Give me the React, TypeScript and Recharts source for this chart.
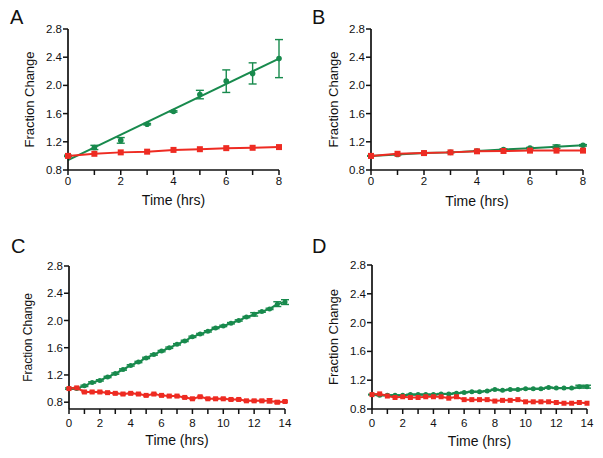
import React from 'react';
import { ComposedChart, Line, XAxis, YAxis, ErrorBar } from 'recharts';

const GREEN = '#188a4d';
const RED = '#ee2b22';
const INK = '#111111';

// Panel A (0-8 hrs, hourly)
const timeA = [0, 1, 2, 3, 4, 5, 6, 7, 8];
const greenA = [1.0, 1.12, 1.22, 1.45, 1.63, 1.87, 2.06, 2.17, 2.38];
const greenErrA = [0.01, 0.03, 0.04, 0.01, 0.01, 0.06, 0.16, 0.15, 0.27];
const redA = [1.0, 1.03, 1.05, 1.06, 1.085, 1.095, 1.11, 1.115, 1.125];
const fitTimeA = [0, 8];
const fitGreenA = [0.94, 2.38];

// Panel B (0-8 hrs, hourly)
const timeB = [0, 1, 2, 3, 4, 5, 6, 7, 8];
const greenB = [1.0, 1.02, 1.04, 1.05, 1.07, 1.09, 1.11, 1.13, 1.15];
const greenErrB = [0.005, 0.005, 0.005, 0.005, 0.005, 0.01, 0.01, 0.025, 0.01];
const redB = [1.0, 1.03, 1.04, 1.05, 1.065, 1.07, 1.075, 1.075, 1.075];

// Panels C and D (0-14 hrs, every half hour)
const timeCD = [0, 0.5, 1, 1.5, 2, 2.5, 3, 3.5, 4, 4.5, 5, 5.5, 6, 6.5, 7, 7.5, 8, 8.5, 9, 9.5, 10, 10.5, 11, 11.5, 12, 12.5, 13, 13.5, 14];
const greenC = [1.0, 1.0, 1.04, 1.09, 1.12, 1.17, 1.22, 1.28, 1.34, 1.39, 1.45, 1.5, 1.55, 1.6, 1.65, 1.7, 1.76, 1.8, 1.84, 1.89, 1.92, 1.96, 2.0, 2.05, 2.09, 2.13, 2.17, 2.24, 2.27];
const greenErrC = [0.01, 0.01, 0.01, 0.01, 0.01, 0.01, 0.01, 0.01, 0.01, 0.01, 0.01, 0.01, 0.01, 0.01, 0.01, 0.01, 0.01, 0.01, 0.01, 0.01, 0.01, 0.01, 0.01, 0.01, 0.025, 0.01, 0.01, 0.035, 0.035];
const redC = [1.0, 1.01, 0.95, 0.95, 0.95, 0.94, 0.93, 0.92, 0.93, 0.92, 0.9, 0.92, 0.9, 0.89, 0.89, 0.87, 0.85, 0.88, 0.85, 0.85, 0.85, 0.84, 0.84, 0.82, 0.82, 0.82, 0.82, 0.8, 0.81];
const redErrC = [0.01, 0.01, 0.01, 0.01, 0.01, 0.01, 0.01, 0.01, 0.01, 0.01, 0.01, 0.01, 0.01, 0.01, 0.01, 0.01, 0.01, 0.01, 0.01, 0.01, 0.01, 0.01, 0.01, 0.01, 0.01, 0.01, 0.03, 0.02, 0.01];
const greenD = [1.0, 0.99, 0.99, 0.99, 0.99, 1.0, 1.0, 1.0, 1.0, 1.01, 1.01, 1.02, 1.03, 1.04, 1.04, 1.05, 1.07, 1.06, 1.07, 1.07, 1.08, 1.08, 1.08, 1.1, 1.09, 1.09, 1.09, 1.11, 1.11];
const greenErrD = [0.005, 0.005, 0.005, 0.005, 0.005, 0.005, 0.005, 0.005, 0.005, 0.005, 0.005, 0.005, 0.005, 0.005, 0.005, 0.005, 0.005, 0.005, 0.005, 0.005, 0.005, 0.005, 0.005, 0.005, 0.005, 0.005, 0.005, 0.02, 0.02];
const redD = [1.0, 1.01, 0.98, 0.96, 0.97, 0.96, 0.96, 0.97, 0.97, 0.97, 0.95, 0.97, 0.93, 0.93, 0.93, 0.93, 0.91, 0.92, 0.92, 0.93, 0.9, 0.9, 0.9, 0.9, 0.89, 0.88, 0.88, 0.89, 0.88];

// Tick labels
const yTicks = [0.8, 1.2, 1.6, 2.0, 2.4, 2.8];
const xTicksShort = [0, 1, 2, 3, 4, 5, 6, 7, 8];
const xTicksLong = [0, 1, 2, 3, 4, 5, 6, 7, 8, 9, 10, 11, 12, 13, 14];
const panelLetters = ['A', 'B', 'C', 'D'];
const xTitle = 'Time (hrs)';
const yTitle = 'Fraction Change';

const rowsA = timeA.map((t, i) => ({ t, g: greenA[i], gErr: greenErrA[i], r: redA[i] }));
const fitRowsA = fitTimeA.map((t, i) => ({ t, f: fitGreenA[i] }));
const rowsB = timeB.map((t, i) => ({ t, g: greenB[i], gErr: greenErrB[i], r: redB[i] }));
const rowsC = timeCD.map((t, i) => ({ t, g: greenC[i], gErr: greenErrC[i], r: redC[i], rErr: redErrC[i] }));
const rowsD = timeCD.map((t, i) => ({ t, g: greenD[i], gErr: greenErrD[i], r: redD[i] }));

const circleDot = (color: string, rad: number) => (p: any) =>
  p.cx == null || p.cy == null ? (
    <g key={`e${p.index}`} />
  ) : (
    <circle key={`c${p.index}`} cx={p.cx} cy={p.cy} r={rad} fill={color} stroke="none" />
  );

const squareDot = (color: string, s: number) => (p: any) =>
  p.cx == null || p.cy == null ? (
    <g key={`e${p.index}`} />
  ) : (
    <rect key={`s${p.index}`} x={p.cx - s / 2} y={p.cy - s / 2} width={s} height={s} fill={color} stroke="none" />
  );

type Box = { l: number; t: number; w: number; h: number };
type Plot = { l: number; r: number; t: number; b: number };

function Panel(props: {
  box: Box;
  plot: Plot;
  rows: any[];
  fitRows?: any[];
  yDomain: [number, number];
  xMax: number;
  xTicks: number[];
  xLabelOffset: number;
  yLabelOffset: number;
  tickMarginX: number;
  greenConnected: boolean;
  hasRedErr?: boolean;
  dotR: number;
  sq: number;
  yTitleSize: number;
}) {
  const { box, plot } = props;
  const margin = { top: plot.t - box.t, right: box.l + box.w - plot.r, left: 0, bottom: 0 };
  const yWidth = plot.l - box.l;
  const xHeight = box.t + box.h - plot.b;
  return (
    <div style={{ position: 'absolute', left: box.l, top: box.t, width: box.w, height: box.h }}>
      <ComposedChart width={box.w} height={box.h} data={props.rows} margin={margin}>
        <XAxis
          type="number"
          dataKey="t"
          domain={[0, props.xMax]}
          ticks={props.xTicks}
          interval={0}
          tickFormatter={(v: number) => (v % 2 === 0 ? String(v) : '')}
          height={xHeight}
          tickSize={5}
          tickMargin={props.tickMarginX}
          axisLine={{ stroke: INK, strokeWidth: 1.7 }}
          tickLine={{ stroke: INK, strokeWidth: 1.5 }}
          tick={{ fontSize: 11.5, fill: INK }}
          label={{ value: xTitle, position: 'insideBottom', offset: props.xLabelOffset, style: { fontSize: 14, fill: INK } }}
        />
        <YAxis
          type="number"
          domain={props.yDomain}
          ticks={yTicks}
          interval={0}
          allowDataOverflow
          tickFormatter={(v: number) => v.toFixed(1)}
          width={yWidth}
          tickSize={5}
          tickMargin={1}
          axisLine={{ stroke: INK, strokeWidth: 1.7 }}
          tickLine={{ stroke: INK, strokeWidth: 1.5 }}
          tick={{ fontSize: 11.5, fill: INK }}
          label={{
            value: yTitle,
            angle: -90,
            position: 'insideLeft',
            offset: props.yLabelOffset,
            style: { fontSize: props.yTitleSize, fill: INK, textAnchor: 'middle' },
          }}
        />
        <Line
          dataKey="g"
          stroke={props.greenConnected ? GREEN : 'none'}
          strokeWidth={2}
          dot={circleDot(GREEN, props.dotR)}
          activeDot={false}
          isAnimationActive={false}
        >
          <ErrorBar dataKey="gErr" direction="y" width={4} stroke={GREEN} strokeWidth={1.4} />
        </Line>
        {props.fitRows ? (
          <Line
            data={props.fitRows}
            dataKey="f"
            stroke={GREEN}
            strokeWidth={2}
            dot={false}
            activeDot={false}
            isAnimationActive={false}
          />
        ) : null}
        <Line
          dataKey="r"
          stroke={RED}
          strokeWidth={2}
          dot={squareDot(RED, props.sq)}
          activeDot={false}
          isAnimationActive={false}
        >
          {props.hasRedErr ? <ErrorBar dataKey="rErr" direction="y" width={3} stroke={RED} strokeWidth={1.4} /> : null}
        </Line>
      </ComposedChart>
    </div>
  );
}

export default function App() {
  return (
    <div
      style={{
        position: 'absolute',
        left: 0,
        top: 0,
        width: 603,
        height: 458,
        background: '#ffffff',
        fontFamily: '"Liberation Sans", Arial, Helvetica, sans-serif',
        overflow: 'hidden',
      }}
    >
      <Panel
        box={{ l: 0, t: 0, w: 300, h: 229 }}
        plot={{ l: 68, r: 279, t: 29, b: 170 }}
        rows={rowsA}
        fitRows={fitRowsA}
        yDomain={[0.8, 2.8]}
        xMax={8}
        xTicks={xTicksShort}
        xLabelOffset={24}
        yLabelOffset={29}
        tickMarginX={2}
        greenConnected={false}
        dotR={2.8}
        sq={6}
        yTitleSize={13}
      />
      <Panel
        box={{ l: 300, t: 0, w: 303, h: 229 }}
        plot={{ l: 371, r: 583, t: 29, b: 170 }}
        rows={rowsB}
        yDomain={[0.8, 2.8]}
        xMax={8}
        xTicks={xTicksShort}
        xLabelOffset={23}
        yLabelOffset={33}
        tickMarginX={2}
        greenConnected={true}
        dotR={2.8}
        sq={6}
        yTitleSize={13}
      />
      <Panel
        box={{ l: 0, t: 229, w: 300, h: 229 }}
        plot={{ l: 69, r: 285, t: 266, b: 409 }}
        rows={rowsC}
        yDomain={[0.7, 2.8]}
        xMax={14}
        xTicks={xTicksLong}
        xLabelOffset={13}
        yLabelOffset={28}
        tickMarginX={5}
        greenConnected={true}
        hasRedErr={true}
        dotR={2.5}
        sq={5}
        yTitleSize={12}
      />
      <Panel
        box={{ l: 300, t: 229, w: 303, h: 229 }}
        plot={{ l: 372, r: 587, t: 265, b: 409 }}
        rows={rowsD}
        yDomain={[0.8, 2.8]}
        xMax={14}
        xTicks={xTicksLong}
        xLabelOffset={12}
        yLabelOffset={33}
        tickMarginX={5}
        greenConnected={true}
        dotR={2.5}
        sq={5}
        yTitleSize={13}
      />
      <svg width={603} height={458} style={{ position: 'absolute', left: 0, top: 0, pointerEvents: 'none' }}>
        <text x={10} y={24} fontSize={20} fill={INK}>{panelLetters[0]}</text>
        <text x={312} y={24} fontSize={20} fill={INK}>{panelLetters[1]}</text>
        <text x={11} y={253} fontSize={20} fill={INK}>{panelLetters[2]}</text>
        <text x={312} y={253} fontSize={20} fill={INK}>{panelLetters[3]}</text>
      </svg>
    </div>
  );
}
